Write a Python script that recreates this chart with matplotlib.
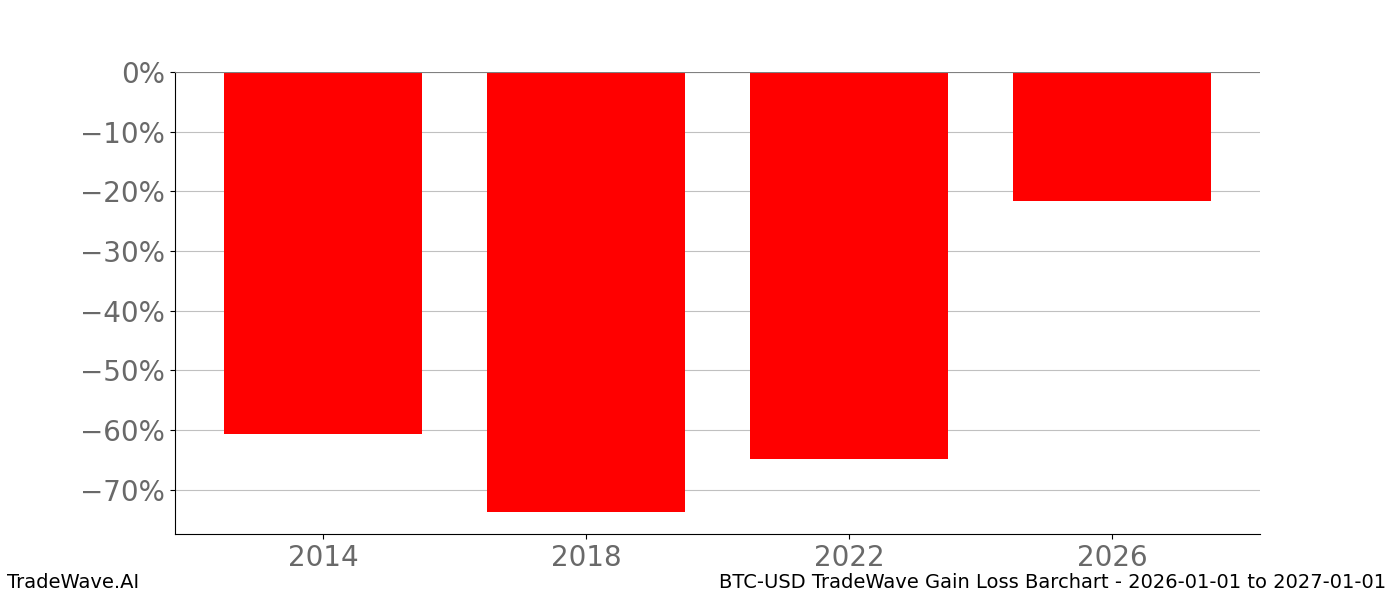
import matplotlib
matplotlib.use('Agg')
import matplotlib.pyplot as plt
from matplotlib.ticker import FuncFormatter

years = [2014, 2018, 2022, 2026]
gains = [-60.7, -73.7, -64.8, -21.6]

fig = plt.figure(figsize=(14, 6), dpi=100)
ax = fig.add_axes([0.125, 0.11, 0.775, 0.77])
ax.bar(years, gains, width=3, color='red', zorder=2)
ax.axhline(0, color='gray', linewidth=0.8, zorder=3)
ax.set_xlim(2011.75, 2028.25)
ax.set_ylim(-77.4, 0)
ax.set_xticks(years)
ax.set_yticks(range(0, -80, -10))
ax.yaxis.set_major_formatter(FuncFormatter(lambda v, p: '\u2212%d%%' % -v if v < 0 else '0%'))
ax.grid(axis='y', color='#c0c0c0', linewidth=0.8, zorder=0)
ax.spines['top'].set_visible(False)
ax.spines['right'].set_visible(False)
ax.tick_params(labelsize=20, labelcolor='dimgray')

fig.text(0.005, 0.02, 'TradeWave.AI', fontsize=14)
fig.text(0.99, 0.02, 'BTC-USD TradeWave Gain Loss Barchart - 2026-01-01 to 2027-01-01',
         fontsize=14, ha='right')

fig.savefig('out.png')
